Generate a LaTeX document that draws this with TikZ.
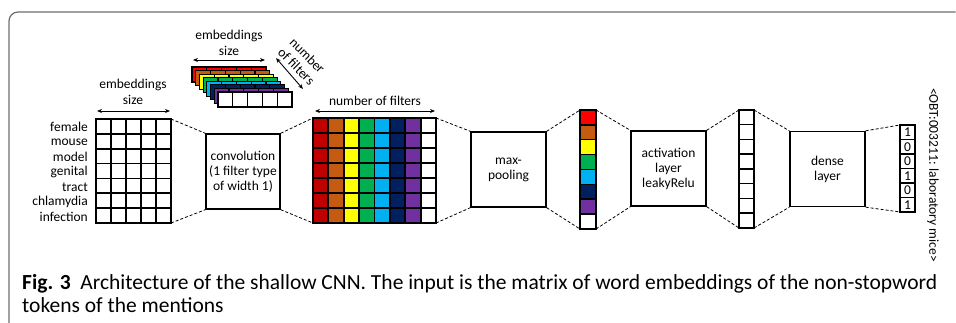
\documentclass[tikz,border=0pt]{standalone}
\usepackage{fontspec}
\setmainfont{Carlito}
\usetikzlibrary{arrows.meta}
\definecolor{cred}{HTML}{C00000}
\definecolor{bred}{HTML}{FF0000}
\definecolor{corange}{HTML}{C55A11}
\definecolor{cyellow}{HTML}{FFFF00}
\definecolor{cgreen}{HTML}{00B050}
\definecolor{cblue}{HTML}{00B0F0}
\definecolor{cnavy}{HTML}{002060}
\definecolor{cpurple}{HTML}{7030A0}
\definecolor{framegray}{HTML}{6E6E6E}
\tikzset{
  lab/.style={font=\fontsize{13.5}{15.5}\selectfont, inner sep=0pt, align=center},
  layerbox/.style={draw, line width=1.4pt, minimum width=75pt, minimum height=75pt, align=center, inner sep=0pt, font=\fontsize{13.5}{15}\selectfont},
  gridframe/.style={draw, line width=1.8pt, inner sep=0pt, outer sep=0pt},
  gridline/.style={line width=1.8pt},
  conn/.style={dash pattern=on 3pt off 2pt, line width=0.8pt},
  dimarrow/.style={line width=0.9pt, {Stealth[length=5pt,width=4pt]}-{Stealth[length=5pt,width=4pt]}},
  captext/.style={anchor=base west, inner sep=0pt, font=\fontsize{21.5}{24}\selectfont},
}
\begin{document}
\begin{tikzpicture}[x=1pt,y=-1pt]
\useasboundingbox (0,0) rectangle (956,323);
% frame
\draw[framegray, line width=1.2pt, rounded corners=9pt] (955.5,12) -- (9,12) -- (9,323);

% input matrix
\node[gridframe, minimum width=75pt, minimum height=104pt] (inmat) at (133.5,171) {};
\foreach \i in {1,...,4} \draw[gridline] ({96+\i*15},119) -- ({96+\i*15},223);
\foreach \j in {1,...,6} \draw[gridline] (96,{119+\j*14.857}) -- (171,{119+\j*14.857});
\foreach \w [count=\k from 0] in {female,mouse,model,genital,tract,chlamydia,infection}
  \node[lab, anchor=east] (w\k) at (88,{127+\k*15}) {\w};
\node[lab] (emb1) at (133,92) {embeddings\\size};
\coordinate (ea1) at (97,111);
\coordinate (eb1) at (170,111);
\draw[dimarrow] (ea1) -- (eb1);

% convolution
\node[layerbox, minimum width=74pt] (conv) at (243,171.5) {convolution\\(1 filter type\\of width 1)};

% feature map
\foreach \c/\col in {0/cred,1/corange,2/cyellow,3/cgreen,4/cblue,5/cnavy,6/cpurple}
  \fill[\col] ({313+\c*15.375},118) rectangle ++(15.375,105);
\node[gridframe, minimum width=123pt, minimum height=105pt] (fmat) at (374.5,170.5) {};
\foreach \i in {1,...,7} \draw[gridline] ({313+\i*15.375},118) -- ({313+\i*15.375},223);
\foreach \j in {1,...,6} \draw[gridline] (313,{118+\j*15}) -- (436,{118+\j*15});
\node[lab] (nf) at (375,101) {number of filters};
\coordinate (na1) at (315,111);
\coordinate (nb1) at (435,111);
\draw[dimarrow] (na1) -- (nb1);

% max pooling
\node[layerbox] (pool) at (508.5,169.5) {max-\\pooling};

% pooled column
\foreach \col [count=\k from 0] in {bred,corange,cyellow,cgreen,cblue,cnavy,cpurple}
  \fill[\col] (580,{110+\k*14.875}) rectangle ++(16,14.875);
\node[gridframe, line width=1.5pt, minimum width=16pt, minimum height=119pt] (pcol) at (588,169.5) {};
\foreach \j in {1,...,7} \draw[line width=1.5pt] (580,{110+\j*14.875}) -- (596,{110+\j*14.875});

% activation
\node[layerbox] (act) at (668.5,168.5) {activation\\layer\\leakyRelu};

% white column
\node[gridframe, line width=1.5pt, minimum width=15pt, minimum height=118pt] (wcol) at (746.5,169) {};
\foreach \j in {1,...,7} \draw[line width=1.5pt] (739,{110+\j*14.75}) -- (754,{110+\j*14.75});

% dense
\node[layerbox] (dense) at (827.5,169) {dense\\layer};

% output column
\node[gridframe, line width=1.3pt, minimum width=15pt, minimum height=87pt] (ocol) at (907.5,168.5) {};
\foreach \j in {1,...,5} \draw[line width=1.3pt] (900,{125+\j*14.5}) -- (915,{125+\j*14.5});
\foreach \d [count=\k from 0] in {1,0,0,1,0,1}
  \node[lab] (o\k) at (907.5,{132.5+\k*14.5}) {\d};

\node[lab, rotate=-90] (obt) at (933,175) {<OBT:003211: laboratory mice>};

% dashed connectors
\draw[conn] (inmat.north east) -- (conv.north west);
\draw[conn] (inmat.south east) -- (conv.south west);
\draw[conn] (conv.north east) -- (fmat.north west);
\draw[conn] (conv.south east) -- (fmat.south west);
\draw[conn] (fmat.north east) -- (pool.north west);
\draw[conn] (fmat.south east) -- (pool.south west);
\draw[conn] (pool.north east) -- (pcol.north west);
\draw[conn] (pool.south east) -- (pcol.south west);
\draw[conn] (pcol.north east) -- (act.north west);
\draw[conn] (pcol.south east) -- (act.south west);
\draw[conn] (act.north east) -- (wcol.north west);
\draw[conn] (act.south east) -- (wcol.south west);
\draw[conn] (wcol.north east) -- (dense.north west);
\draw[conn] (wcol.south east) -- (dense.south west);
\draw[conn] (dense.north east) -- (ocol.north west);
\draw[conn] (dense.south east) -- (ocol.south west);

% 3D filter stack
\foreach \col [count=\k from 0] in {bred,corange,cyellow,cgreen,cblue,cnavy,cpurple,white} {
  \pgfmathsetmacro{\xo}{192+\k*3.714}
  \pgfmathsetmacro{\yo}{67+\k*3.571}
  \filldraw[fill=\col, draw=black, line width=1.2pt] (\xo,\yo) rectangle ++(74,15);
  \foreach \i in {1,...,4} \draw[line width=1.2pt] ({\xo+\i*14.8},\yo) -- ++(0,15);
}
\node[lab] (emb2) at (229,43) {embeddings\\size};
\coordinate (ea2) at (193,60);
\coordinate (eb2) at (265,60);
\draw[dimarrow] (ea2) -- (eb2);
\coordinate (da) at (276,58);
\coordinate (db) at (303,89);
\draw[dimarrow] (da) -- (db);
\node[lab, rotate=-45] (nfs) at (302,61) {number\\of filters};

% caption
\node[captext] (cap1) at (22,290) {\textbf{Fig. 3}\ \ Architecture of the shallow CNN. The input is the matrix of word embeddings of the non-stopword};
\node[captext] (cap2) at (22,312) {tokens of the mentions};
\end{tikzpicture}
\end{document}
